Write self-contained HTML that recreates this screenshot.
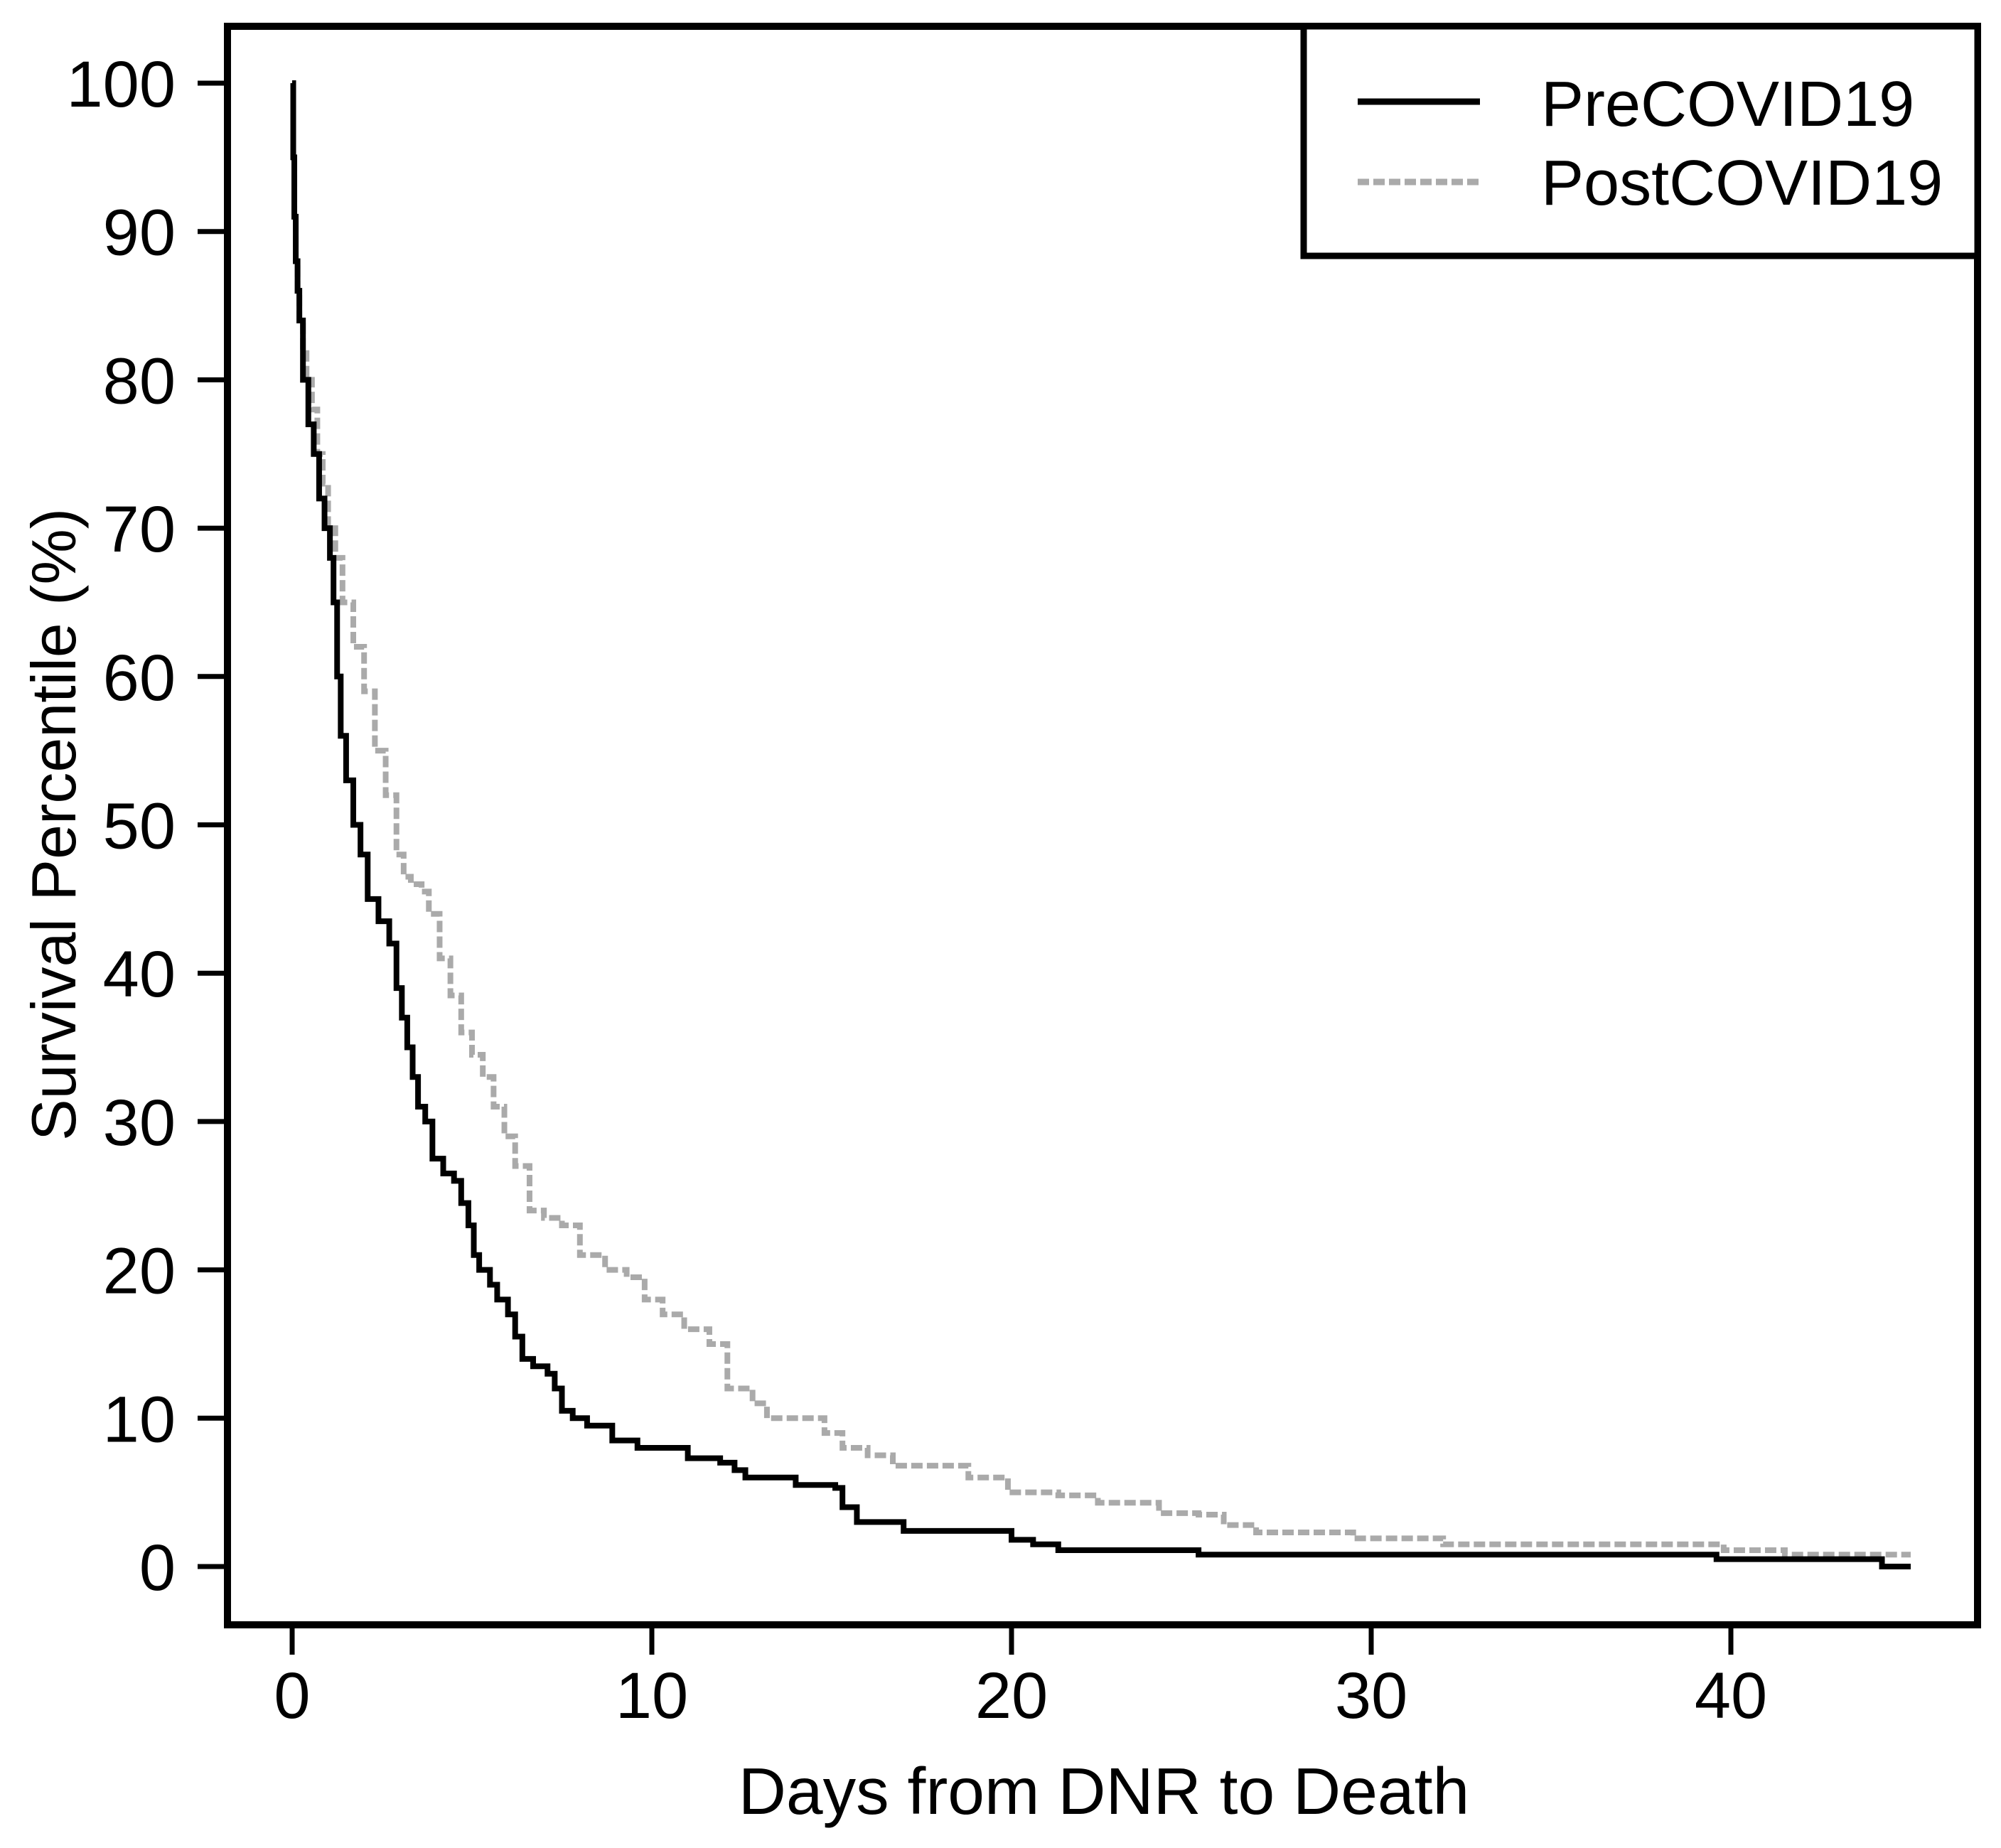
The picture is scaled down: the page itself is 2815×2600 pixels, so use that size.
<!DOCTYPE html>
<html><head><meta charset="utf-8"><style>
html,body{margin:0;padding:0;background:#fff}
svg{display:block}
text{font-family:"Liberation Sans",Arial,sans-serif;fill:#000}
</style></head><body>
<svg id="chart" width="2815" height="2600" viewBox="0 0 2815 2600" xmlns="http://www.w3.org/2000/svg">
<g id="plot"></g>
<g id="axes"></g>
<text x="1553" y="2552" font-size="93" text-anchor="middle">Days from DNR to Death</text>
<text transform="translate(106,1160) rotate(-90)" font-size="88" text-anchor="middle">Survival Percentile (%)</text>
<g>
<rect x="1834" y="37" width="948" height="323" fill="#fff" stroke="#000" stroke-width="9"/>
<line x1="1910" y1="143" x2="2082" y2="143" stroke="#000" stroke-width="9"/>
<line x1="1910" y1="256" x2="2082" y2="256" stroke="#aaa" stroke-width="9" stroke-dasharray="16,6"/>
<text x="2168" y="177" font-size="90">PreCOVID19</text>
<text x="2168" y="288" font-size="90">PostCOVID19</text>
</g>
</svg>
<script>
const preDays=[0,0.03,0.06,0.1,0.15,0.2,0.3,0.45,0.6,0.75,0.9,1.05,1.15,1.25,1.35,1.5,1.7,1.9,2.1,2.4,2.7,2.9,3.05,3.2,3.35,3.5,3.7,3.9,4.2,4.5,4.7,4.9,5.05,5.2,5.5,5.7,6.0,6.2,6.4,6.7,7.1,7.3,7.5,7.8,8.2,8.9,9.6,11,11.9,12.3,12.6,14,15.1,15.3,15.7,17,20,20.6,21.3,25.2,39.6,44.2,45];
const preVals=[100,95,91,88,86,84,80,77,75,72,70,68,65,60,56,53,50,48,45,43.5,42,39,37,35,33,31,30,27.5,26.5,26,24.5,23,21,20,19,18,17,15.5,14,13.5,13,12,10.5,10,9.5,8.5,8,7.3,7,6.5,6,5.5,5.3,4,3,2.4,1.8,1.5,1.1,0.8,0.5,0,0];
const postDays=[0,0.03,0.06,0.1,0.15,0.2,0.3,0.4,0.55,0.7,0.85,1,1.2,1.4,1.7,2.0,2.3,2.6,2.9,3.1,3.3,3.6,3.8,4.1,4.4,4.7,5.0,5.3,5.6,5.9,6.2,6.6,7.0,7.5,8,8.7,9.3,9.8,10.3,10.9,11.6,12.1,12.8,13.2,14.8,15.3,16,16.7,18.8,19.9,21.3,22.4,24.1,25.2,25.9,26.8,29.5,32,39.8,41.5,45];
const postVals=[100,95,91,88,86,84,82,80,78,75,73,70,68,65,62,59,55,52,48,46.5,46,45.5,44,41,38.5,36,34.5,33,31,29,27,24,23.5,23,21,20,19.5,18,17,16,15,12,11,10,9,8,7.5,6.8,6,5,4.8,4.3,3.6,3.5,2.8,2.3,1.9,1.5,1.1,0.8,0.8];
const xTicks=[0,10,20,30,40];
const yTicks=[0,10,20,30,40,50,60,70,80,90,100];
const NS='http://www.w3.org/2000/svg';
const X0=411,XS=50.6,Y0=2204,YS=20.87;
function sx(d){return X0+d*XS;}
function sy(v){return Y0-v*YS;}
const plot=document.getElementById('plot'),axes=document.getElementById('axes');
function mk(tag,attrs,parent){const e=document.createElementNS(NS,tag);for(const k in attrs)e.setAttribute(k,attrs[k]);parent.appendChild(e);return e;}
function stepPath(ds,vs){let p='M'+sx(ds[0])+','+sy(vs[0]);for(let i=1;i<ds.length;i++){p+=' H'+sx(ds[i])+' V'+sy(vs[i]);}return p;}
const post=mk('path',{d:stepPath(postDays,postVals),fill:'none',stroke:'#aaa','stroke-width':8,'stroke-dasharray':'16,6'},plot);


const pre=mk('path',{d:stepPath(preDays,preVals),fill:'none',stroke:'#000','stroke-width':8},plot);


const frame=mk('rect',{x:320,y:37,width:2462,height:2249,fill:'none',stroke:'#000','stroke-width':10},axes);


xTicks.forEach(t=>{
 const l=mk('line',{x1:sx(t),x2:sx(t),y1:2291,y2:2328,stroke:'#000','stroke-width':7},axes);
 
 
 const tx=mk('text',{x:sx(t),y:2417,'font-size':92,'text-anchor':'middle'},axes);
 tx.textContent=t;
 
 
});
yTicks.forEach(t=>{
 const l=mk('line',{x1:278,x2:316,y1:sy(t),y2:sy(t),stroke:'#000','stroke-width':7},axes);
 
 
 const tx=mk('text',{x:247,y:sy(t)+33,'font-size':92,'text-anchor':'end'},axes);
 tx.textContent=t;
 
 
});
</script>
</body></html>
